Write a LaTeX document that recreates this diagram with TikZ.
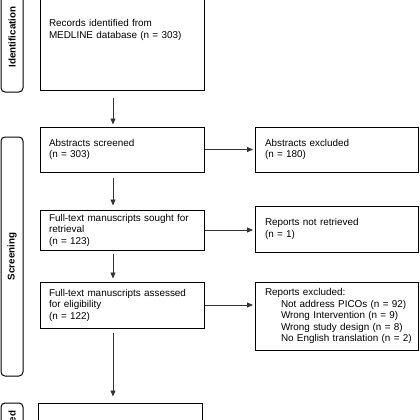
\documentclass[tikz,border=0pt]{standalone}
\usepackage{fontspec}
\setmainfont{Liberation Sans}
\usetikzlibrary{arrows.meta}
\begin{document}
\begin{tikzpicture}[x=1pt,y=-1pt,
  box/.style={draw,line width=1pt,inner ysep=0pt,align=left,
    font=\fontsize{9.9}{11.5}\selectfont},
  lbox/.style={box,inner xsep=9pt,text width=146pt,minimum height=#1},
  rbox/.style={box,inner xsep=10pt,text width=143pt,minimum height=#1},
  side/.style={draw,line width=1pt,rounded corners=4pt,rotate=90,
    minimum height=22pt,inner sep=0pt,
    font=\bfseries\fontsize{9.8}{11}\selectfont},
  arr/.style={-{Triangle[length=6pt,width=5pt]},line width=0.8pt,draw=black!80,fill=black!80}
]
\useasboundingbox (0,0) rectangle (420,420);
\clip (0,0) rectangle (420,420);

% sidebars
\node[side,minimum width=110pt] (sidA) at (12,37) {Identification};
\node[side,minimum width=239pt] (sidB) at (12,256.5) {Screening};
\node[side,minimum width=56pt] (sidC) at (12,431) {Included};

% left column
\node[lbox=120pt] (rec) at (122,30) {Records identified from\\MEDLINE database (n = 303)};
\node[lbox=45pt] (abs) at (122,149.5) {Abstracts screened\\(n = 303)};
\node[lbox=40pt] (ft) at (122,230) {Full-text manuscripts sought for\\retrieval\\(n = 123)};
\node[lbox=46pt] (elig) at (122,305) {Full-text manuscripts assessed\\for eligibility\\(n = 122)};
\node[draw,line width=1pt,minimum width=164pt,minimum height=94pt,inner sep=0pt] (inc) at (120,450) {};

% right column
\node[rbox=45pt] (absx) at (336.5,149.5) {Abstracts excluded\\(n = 180)};
\node[rbox=46pt] (nret) at (336.5,229) {Reports not retrieved\\(n = 1)};
\node[rbox=68pt] (rex) at (336.5,316) {Reports excluded:\\
  \hspace*{16pt}\mbox{Not address PICOs (n = 92)}\\
  \hspace*{16pt}\mbox{Wrong Intervention (n = 9)}\\
  \hspace*{16pt}\mbox{Wrong study design (n = 8)}\\
  \hspace*{16pt}\mbox{No English translation (n = 2)}};

% vertical arrows
\coordinate (ax) at (113,0);
\draw[arr,shorten <=7pt,shorten >=2pt] (rec.south -| ax) -- (abs.north -| ax);
\draw[arr,shorten <=5pt,shorten >=4pt] (abs.south -| ax) -- (ft.north -| ax);
\draw[arr,shorten <=3pt,shorten >=3pt] (ft.south -| ax) -- (elig.north -| ax);
\draw[arr,shorten <=4pt,shorten >=6pt] (elig.south -| ax) -- (inc.north -| ax);

% horizontal arrows
\draw[arr,shorten >=1.5pt] (abs.east) -- (absx.west |- abs.east);
\draw[arr,shorten >=1.5pt] (ft.east) -- (nret.west |- ft.east);
\draw[arr,shorten >=1.5pt] (elig.east) -- (rex.west |- elig.east);
\end{tikzpicture}
\end{document}
